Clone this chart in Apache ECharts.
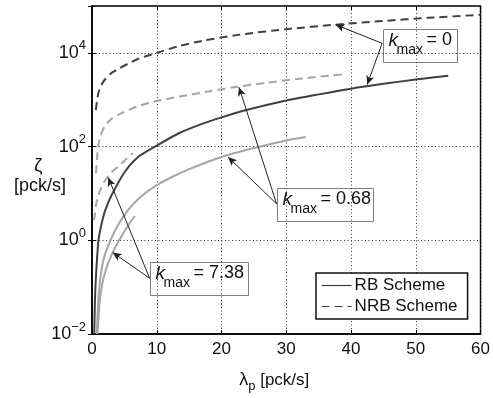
<!DOCTYPE html>
<html>
<head>
<meta charset="utf-8">
<script src="https://cdn.jsdelivr.net/npm/echarts@6/dist/echarts.min.js"></script>
<style>
  html, body { margin: 0; padding: 0; background: #fff; }
  #chart { width: 493px; height: 398px; }
</style>
</head>
<body>
<div id="chart"></div>
<script>
// values: lambda_p [pck/s] -> zeta [pck/s]
const rbK0Lam = [0.35, 0.45, 0.6, 0.8, 1.0, 1.5, 2, 3, 5, 7, 10, 13.5, 17, 20, 24, 30, 35, 40, 45, 50, 55];
const rbK0Zeta = [0.01, 0.05, 0.16, 0.45, 1.0, 2.3, 4.2, 9, 28, 58, 105, 195, 305, 420, 610, 960, 1300, 1720, 2180, 2700, 3250];

const rbK068Lam = [0.75, 1, 1.5, 2, 3, 4, 5.5, 7.4, 10, 12.5, 15, 20, 25, 30, 33];
const rbK068Zeta = [0.01, 0.06, 0.25, 0.5, 1.1, 2.1, 4.3, 8.2, 15, 23, 33, 60, 93, 135, 160];

const rbK738Lam = [0.85, 1.2, 1.6, 2.2, 3.2, 4.2, 5.5, 6.6];
const rbK738Zeta = [0.01, 0.05, 0.12, 0.25, 0.55, 1.0, 2.0, 3.3];

const nrbK0Lam = [0.6, 0.75, 1, 1.4, 2, 3, 4, 5.5, 7.1, 10, 13.5, 17, 22.8, 30, 37.6, 45, 52, 60];
const nrbK0Zeta = [600, 900, 1400, 2000, 2700, 3700, 4500, 5800, 7400, 10000, 14000, 18000, 24500, 32000, 40000, 48000, 56000, 65000];

const nrbK068Lam = [0.6, 0.77, 0.92, 1.3, 1.95, 3, 4.5, 7, 9.6, 13.5, 18, 22.5, 27, 32, 39];
const nrbK068Zeta = [27, 52, 94, 170, 270, 390, 510, 720, 910, 1170, 1500, 1900, 2300, 2800, 3500];

const nrbK738Lam = [0.3, 0.41, 0.6, 0.92, 1.3, 1.7, 2.5, 3.2, 4, 5, 6.3];
const nrbK738Zeta = [2.7, 3.2, 5.5, 8.5, 12, 16, 23, 30, 37, 50, 72];

const xTicks = [0, 10, 20, 30, 40, 50, 60];
const yTickExps = [-2, 0, 2, 4];

// annotation arrows: [from, to] in data coords
const arrowsK0 = [[[44.8, 16000], [37.6, 40000]], [[44.8, 16000], [42.5, 2100]]];
const arrowsK068 = [[[28.5, 6], [22.7, 1850]], [[28.5, 6], [21.0, 60]]];
const arrowsK738 = [[[8.9, 0.155], [2.5, 22]], [[8.9, 0.155], [3.2, 0.55]]];

const FONT = "'Liberation Sans', Arial, sans-serif";
const DARK = "#404040";
const LIGHT = "#a6a6a6";
const DASH = [8, 5];

const pts = (lam, zeta) => lam.map((l, i) => [l, zeta[i]]);

function curve(name, lam, zeta, color, dashed) {
  return {
    name,
    type: "line",
    data: pts(lam, zeta),
    symbol: "none",
    smooth: 0.25,
    lineStyle: { color, width: 2, type: dashed ? DASH : "solid" },
    itemStyle: { color },
    z: dashed ? 3 : 4,
  };
}

function arrowData(list) {
  return list.map(([a, b]) => [{ coord: a }, { coord: b }]);
}

// k_max label box: rect + italic k + subscript + value
function kBox(left, top, width, value) {
  return {
    type: "group",
    left,
    top,
    z: 100,
    children: [
      { type: "rect", shape: { x: 0, y: 0, width, height: 33 },
        style: { fill: "#fff", stroke: "#808080", lineWidth: 1 } },
      { type: "text", x: 5, y: 11,
        style: { text: "k", font: "italic 19px " + FONT, fill: "#111", verticalAlign: "middle" } },
      { type: "text", x: 13, y: 21,
        style: { text: "max", font: "14px " + FONT, fill: "#111", verticalAlign: "middle" } },
      { type: "text", x: 43, y: 11,
        style: { text: "= " + value, font: "18px " + FONT, fill: "#111", verticalAlign: "middle" } },
    ],
  };
}

const chart = echarts.init(document.getElementById("chart"));
chart.setOption({
  animation: false,
  backgroundColor: "#fff",
  textStyle: { fontFamily: FONT },
  grid: { left: 92, right: 12, top: 6, bottom: 64, show: true, borderColor: "#000", borderWidth: 1.5 },
  legend: {
    data: ["RB Scheme", "NRB Scheme"],
    orient: "vertical",
    left: 316,
    top: 273,
    itemWidth: 30,
    itemHeight: 14,
    itemGap: 4,
    padding: [4, 10, 4, 5],
    backgroundColor: "#fff",
    borderColor: "#111",
    borderWidth: 1.5,
    itemStyle: { opacity: 0 },
    lineStyle: { width: 1.2 },
    textStyle: { fontSize: 17, color: "#111", fontFamily: FONT, padding: [0, 0, 0, -2] },
  },
  xAxis: [
    {
      type: "value",
      min: 0,
      max: 60,
      interval: 10,
      name: "{l|λ}{p|p} [pck/s]",
      nameLocation: "middle",
      nameGap: 34,
      nameTextStyle: {
        fontSize: 17,
        color: "#111",
        padding: [0, 24, 0, 0],
        rich: { l: { fontSize: 18, color: "#111" }, p: { fontSize: 13, color: "#111", padding: [12, 0, 0, 0] } },
      },
      axisLine: { lineStyle: { color: "#000", width: 1.5 } },
      axisTick: { inside: true, length: 4, lineStyle: { color: "#000" } },
      axisLabel: {
        fontSize: 17,
        color: "#111",
        margin: 7,
        formatter: (v) => (xTicks.includes(v) ? String(v) : ""),
      },
      splitLine: { show: true, lineStyle: { color: "#333", type: [1, 2.5], width: 1 } },
    },
    {
      type: "value",
      position: "top",
      min: 0,
      max: 60,
      interval: 10,
      axisLine: { show: false },
      axisTick: { inside: true, length: 4, lineStyle: { color: "#000" } },
      axisLabel: { show: false },
      splitLine: { show: false },
    },
  ],
  yAxis: [
    {
      type: "log",
      logBase: 10,
      min: 0.01,
      max: 100000,
      interval: 2,
      axisLine: { show: true, lineStyle: { color: "#000", width: 1.5 } },
      axisTick: { inside: true, length: 4, lineStyle: { color: "#000" } },
      axisLabel: {
        fontSize: 18,
        color: "#111",
        margin: 6,
        formatter: (v) => {
          const e = Math.round(Math.log10(v));
          if (!yTickExps.includes(e)) return "";
          return "10{sup|" + (e < 0 ? "\u2212" + -e : e) + "}";
        },
        rich: { sup: { fontSize: 13, color: "#111", verticalAlign: "bottom", padding: [0, 0, 14, 0] } },
      },
      splitLine: { show: true, lineStyle: { color: "#333", type: [1, 2.5], width: 1 } },
    },
    {
      type: "log",
      logBase: 10,
      position: "right",
      min: 0.01,
      max: 100000,
      interval: 2,
      axisLine: { show: false },
      axisTick: { inside: true, length: 4, lineStyle: { color: "#000" } },
      axisLabel: { show: false },
      splitLine: { show: false },
    },
  ],
  graphic: [
    { type: "text", left: 34, top: 156, style: { text: "ζ", font: "19px " + FONT, fill: "#111" } },
    { type: "text", left: 14, top: 177, style: { text: "[pck/s]", font: "18px " + FONT, fill: "#111" } },
    kBox(383, 29, 74, "0"),
    kBox(277, 188, 96, "0.68"),
    kBox(150, 262, 98, "7.38"),
  ],
  series: [
    curve("NRB Scheme", nrbK0Lam, nrbK0Zeta, DARK, true),
    curve("NRB k=0.68", nrbK068Lam, nrbK068Zeta, LIGHT, true),
    curve("NRB k=7.38", nrbK738Lam, nrbK738Zeta, LIGHT, true),
    curve("RB k=0.68", rbK068Lam, rbK068Zeta, LIGHT, false),
    curve("RB k=7.38", rbK738Lam, rbK738Zeta, LIGHT, false),
    Object.assign(curve("RB Scheme", rbK0Lam, rbK0Zeta, DARK, false), {
      markLine: {
        silent: true,
        symbol: ["none", "arrow"],
        symbolSize: [6, 9],
        label: { show: false },
        lineStyle: { color: "#222", width: 1, type: "solid" },
        data: [...arrowData(arrowsK0), ...arrowData(arrowsK068), ...arrowData(arrowsK738)],
      },
    }),
  ],
});
</script>
</body>
</html>
